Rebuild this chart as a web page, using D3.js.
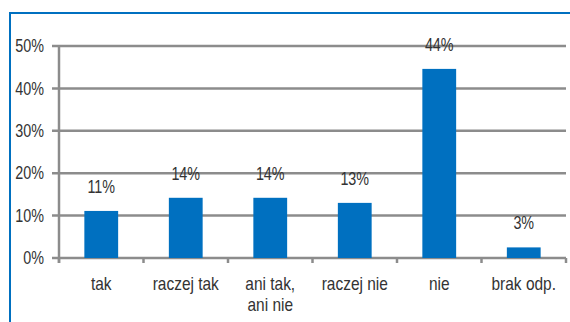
<!DOCTYPE html>
<html><head><meta charset="utf-8">
<script src="https://cdn.jsdelivr.net/npm/d3@7"></script>
<style>
html,body{margin:0;padding:0;background:#fff;}
svg{display:block;}
text{font-family:"Liberation Sans Narrow","Arial Narrow","Liberation Sans",sans-serif;fill:#333;}
</style></head><body>
<script>
const categories = ["tak", "raczej tak", "ani tak,|ani nie", "raczej nie", "nie", "brak odp."];
const values = [11.1, 14.2, 14.2, 13.0, 44.6, 2.5];
const valueLabels = ["11%", "14%", "14%", "13%", "44%", "3%"];
const yTicks = [0, 10, 20, 30, 40, 50];

const W = 570, H = 322;
const svg = d3.select("body").append("svg").attr("width", W).attr("height", H);
const SX = 0.82;

// frame (top and left)
svg.append("line").attr("x1", 9).attr("x2", W).attr("y1", 13).attr("y2", 13)
  .attr("stroke", "#0070c0").attr("stroke-width", 2);
svg.append("line").attr("x1", 10).attr("x2", 10).attr("y1", 12).attr("y2", H)
  .attr("stroke", "#0070c0").attr("stroke-width", 2);

const x0 = 59, x1 = 566, yTop = 46, yBot = 258;
const x = d3.scaleBand().domain(categories).range([x0, x1]).paddingInner(0.6).paddingOuter(0.3);
const xb = d3.scaleBand().domain(categories).range([x0, x1]);
const y = d3.scaleLinear().domain([0, 50]).range([yBot, yTop]);
const grey = "#8c8c8c";

function label(px, py, str, size, anchor, sx) {
  str.split("|").forEach((s, j) => {
    svg.append("g").attr("transform", `translate(${px},${py + j * 20.5}) scale(${sx},1)`)
      .append("text").attr("text-anchor", anchor).style("font-size", size + "px").text(s);
  });
}

// gridlines + y ticks
svg.selectAll("line.g").data(yTicks).enter().append("line")
  .attr("x1", x0 - 7).attr("x2", x1).attr("y1", d => y(d)).attr("y2", d => y(d))
  .attr("stroke", grey).attr("stroke-width", 2.5);
yTicks.forEach(d => label(44, y(d) + 6.2, d + "%", 17.5, "end", SX));

// y axis line
svg.append("line").attr("x1", x0).attr("x2", x0).attr("y1", yTop).attr("y2", yBot + 5)
  .attr("stroke", grey).attr("stroke-width", 2.5);
// x category ticks
const bounds = categories.map(c => xb(c)).concat([x1]);
svg.selectAll("line.t").data(bounds).enter().append("line")
  .attr("x1", d => d).attr("x2", d => d).attr("y1", yBot).attr("y2", yBot + 5)
  .attr("stroke", grey).attr("stroke-width", 2.5);

// bars
svg.selectAll("rect").data(values).enter().append("rect")
  .attr("x", (d, i) => x(categories[i])).attr("width", x.bandwidth())
  .attr("y", d => y(d)).attr("height", d => yBot - y(d))
  .attr("fill", "#0070c0");

// value labels
values.forEach((d, i) => label(x(categories[i]) + x.bandwidth() / 2, y(d) - 18, valueLabels[i], 17.5, "middle", SX));

// category labels
categories.forEach(c => label(xb(c) + xb.bandwidth() / 2, 290, c, 18, "middle", 0.86));
</script></body></html>
